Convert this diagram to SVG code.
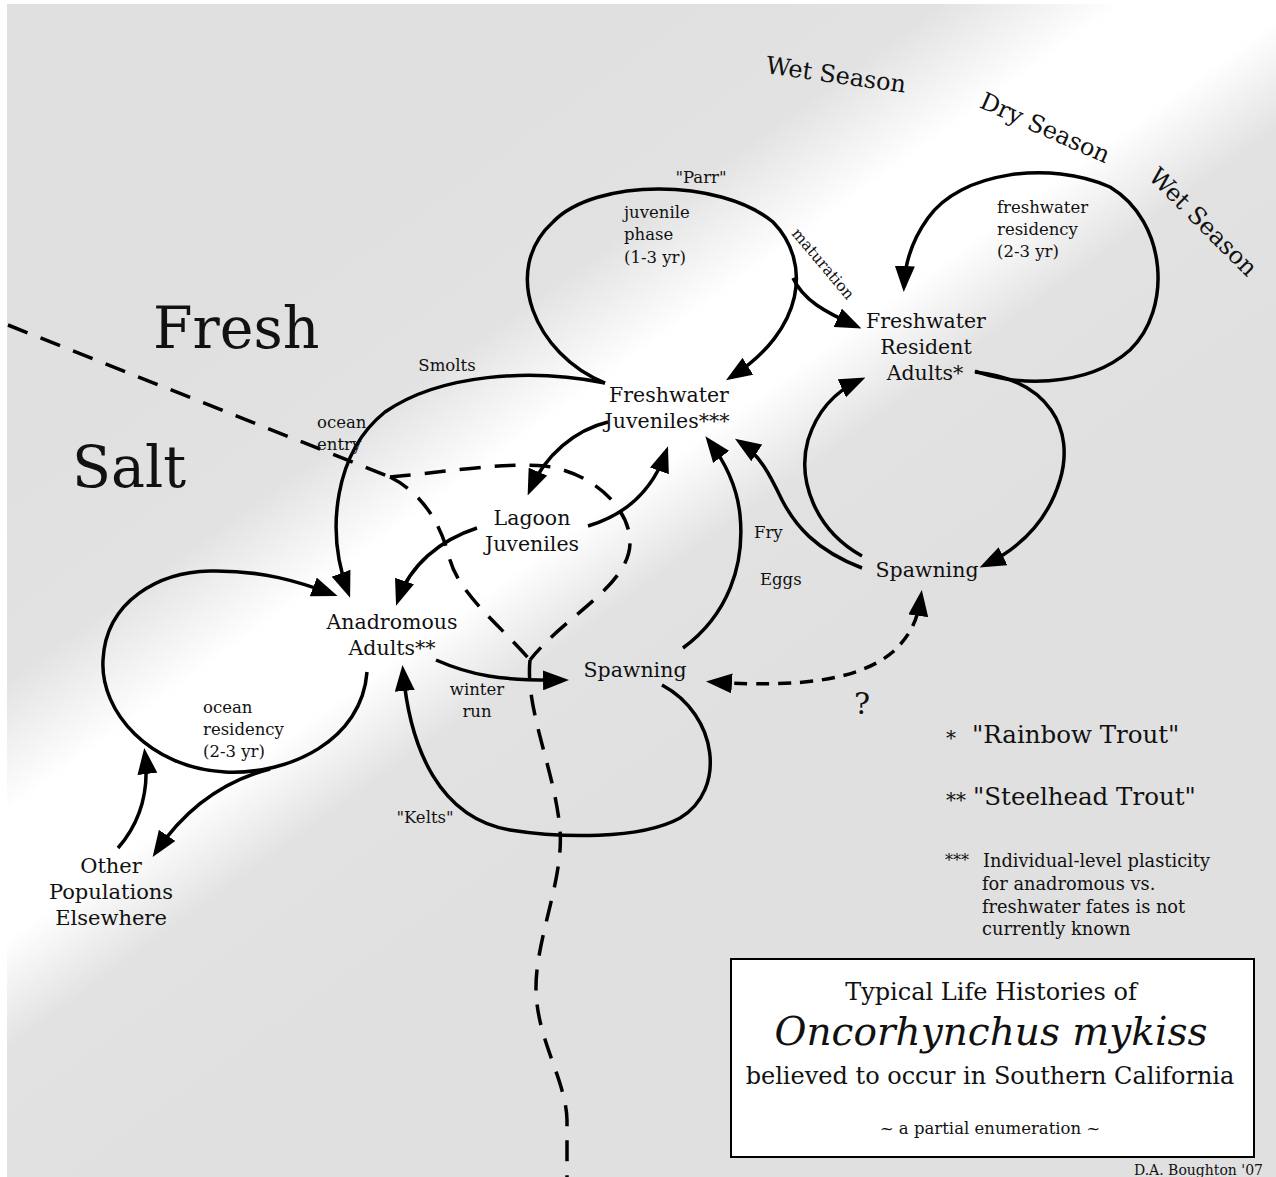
<svg xmlns="http://www.w3.org/2000/svg" width="1276" height="1177" viewBox="0 0 1276 1177">
<defs>
<linearGradient id="bg" gradientUnits="userSpaceOnUse" x1="474" y1="156" x2="826" y2="642">
<stop offset="0" stop-color="#e0e0e0"/>
<stop offset="0.25" stop-color="#e2e2e2"/>
<stop offset="0.43" stop-color="#ffffff"/>
<stop offset="0.6" stop-color="#ffffff"/>
<stop offset="0.75" stop-color="#e2e2e2"/>
<stop offset="1" stop-color="#e0e0e0"/>
</linearGradient>
<marker id="ah" markerWidth="26" markerHeight="20" refX="20" refY="10" orient="auto" markerUnits="userSpaceOnUse" viewBox="0 0 26 20"><path d="M0,0 L26,10 L0,20 z" fill="#000"/></marker>
<marker id="ahs" markerWidth="26" markerHeight="20" refX="20" refY="10" orient="auto-start-reverse" markerUnits="userSpaceOnUse" viewBox="0 0 26 20"><path d="M0,0 L26,10 L0,20 z" fill="#000"/></marker>
</defs>
<style>
text{font-family:"DejaVu Serif","Liberation Serif",serif;fill:#111}
.n{font-size:20.5px;text-anchor:middle}
.s{font-size:16.5px}
.sm{font-size:16.5px;text-anchor:middle}
.big{font-size:57px}
.season{font-size:24px;text-anchor:middle}
.c{fill:none;stroke:#000;stroke-width:3.5}
.a{marker-end:url(#ah)}
.d{fill:none;stroke:#000;stroke-width:3.5;stroke-dasharray:21 14}
.q{fill:none;stroke:#000;stroke-width:3.5;stroke-dasharray:13 9}
</style>
<rect x="0" y="0" width="1276" height="1177" fill="#ffffff"/>
<rect x="7" y="4" width="1269" height="1173" fill="url(#bg)"/>

<g id="region-labels">
<text class="big" x="153" y="348">Fresh</text>
<text class="big" x="72" y="487">Salt</text>
<text class="season" transform="translate(836,75) rotate(8)" x="0" y="8">Wet Season</text>
<text class="season" transform="translate(1045,128) rotate(24)" x="0" y="8">Dry Season</text>
<text class="season" transform="translate(1203,222) rotate(45)" x="0" y="8">Wet Season</text>
</g>

<g id="connectors">
<path class="d" d="M 8 325 L 390 477"/>
<path class="d" d="M 390 477 C 440 473 500 462 545 466 C 590 472 628 505 630 540 C 632 585 565 615 530 660"/>
<path class="d" d="M 390 477 C 420 492 440 520 450 560 C 460 595 500 625 530 660"/>
<path class="d" d="M 530 660 C 525 710 555 770 560 830 C 564 880 535 940 536 990 C 537 1040 566 1080 567 1120 L 567 1177"/>
<path class="c a" d="M 605 383 C 535 355 500 270 553 222 C 595 178 720 178 773 222 C 812 262 805 330 731 377"/>
<path class="c a" d="M 793 278 C 803 300 825 312 856 326"/>
<path class="c a" d="M 975 371 C 1010 385 1085 390 1130 350 C 1172 310 1168 222 1110 187 C 1050 160 960 172 928 218 C 912 240 905 262 904 286"/>
<path class="c a" d="M 975 372 C 1050 380 1075 430 1060 480 C 1048 520 1020 548 985 565"/>
<path class="c a" d="M 862 556 C 815 530 797 480 808 440 C 818 408 838 390 860 380"/>
<path class="c a" d="M 862 568 C 815 550 795 525 782 500 C 770 475 760 455 740 442"/>
<path class="c a" d="M 683 648 C 728 615 745 565 740 515 C 737 485 725 462 709 441"/>
<path class="c a" d="M 608 422 C 575 430 545 455 530 490"/>
<path class="c a" d="M 588 526 C 625 515 652 492 666 452"/>
<path class="c a" d="M 477 528 C 440 540 410 565 398 600"/>
<path class="c a" d="M 605 383 C 530 368 440 374 385 412 C 335 452 325 530 348 592"/>
<path class="c a" d="M 367 672 C 362 740 290 775 225 772 C 150 768 100 712 103 660 C 106 600 160 572 210 571 C 262 570 300 582 332 594"/>
<path class="c a" d="M 270 769 C 220 782 183 812 156 852"/>
<path class="c a" d="M 118 848 C 138 825 150 795 145 754"/>
<path class="c a" d="M 436 660 C 470 675 500 681 563 680"/>
<path class="c a" d="M 662 685 C 718 715 727 790 680 818 C 640 840 560 838 510 830 C 440 818 410 750 403 671"/>
<path class="q" marker-start="url(#ahs)" marker-end="url(#ah)" d="M 712 682 C 800 688 862 680 895 650 C 912 633 918 618 921 596"/>
</g>

<g id="node-freshwater-juveniles">
<text class="n" x="669" y="402">Freshwater</text>
<text class="n" x="667" y="428">Juveniles***</text>
</g>
<g id="node-freshwater-resident-adults">
<text class="n" x="926" y="328">Freshwater</text>
<text class="n" x="926" y="354">Resident</text>
<text class="n" x="925" y="380">Adults*</text>
</g>
<g id="node-lagoon-juveniles">
<text class="n" x="532" y="525">Lagoon</text>
<text class="n" x="532" y="551">Juveniles</text>
</g>
<g id="node-anadromous-adults">
<text class="n" x="392" y="629">Anadromous</text>
<text class="n" x="392" y="655">Adults**</text>
</g>
<g id="node-spawning-fresh">
<text class="n" x="927" y="577">Spawning</text>
</g>
<g id="node-spawning-anadromous">
<text class="n" x="635" y="677">Spawning</text>
</g>
<g id="node-other-populations">
<text class="n" x="111" y="873" style="font-size:21px">Other</text>
<text class="n" x="111" y="899" style="font-size:21px">Populations</text>
<text class="n" x="111" y="925" style="font-size:21px">Elsewhere</text>
</g>

<g id="edge-labels">
<text class="sm" x="701" y="183">"Parr"</text>
<text class="s" x="624" y="218">juvenile</text>
<text class="s" x="624" y="240">phase</text>
<text class="s" x="624" y="263">(1-3 yr)</text>
<text class="sm" style="font-size:15.5px" transform="translate(823,264) rotate(50)" x="0" y="5">maturation</text>
<text class="s" x="997" y="213">freshwater</text>
<text class="s" x="997" y="235">residency</text>
<text class="s" x="997" y="257">(2-3 yr)</text>
<text class="sm" x="447" y="371">Smolts</text>
<text class="s" x="317" y="428">ocean</text>
<text class="s" x="317" y="450">entry</text>
<text class="s" x="754" y="538">Fry</text>
<text class="s" x="760" y="585">Eggs</text>
<text class="sm" x="477" y="695">winter</text>
<text class="sm" x="477" y="717">run</text>
<text class="s" x="203" y="713">ocean</text>
<text class="s" x="203" y="735">residency</text>
<text class="s" x="203" y="757">(2-3 yr)</text>
<text class="sm" x="425" y="823">"Kelts"</text>
<text x="862" y="714" style="font-size:30px;text-anchor:middle">?</text>
</g>

<g id="legend">
<text x="946" y="745" style="font-size:20px">*</text>
<text x="972" y="743" style="font-size:24.5px">"Rainbow Trout"</text>
<text x="946" y="807" style="font-size:20px">**</text>
<text x="973" y="805" style="font-size:24.5px">"Steelhead Trout"</text>
<text x="945" y="866" style="font-size:16px">***</text>
<text x="983" y="867" style="font-size:17.8px">Individual-level plasticity</text>
<text x="982" y="890" style="font-size:17.8px">for anadromous vs.</text>
<text x="982" y="913" style="font-size:17.8px">freshwater fates is not</text>
<text x="982" y="935" style="font-size:17.8px">currently known</text>
</g>

<g id="title-box">
<rect x="731" y="959" width="523" height="198" fill="#ffffff" stroke="#000" stroke-width="2"/>
<text x="991" y="1000" style="font-size:24px;text-anchor:middle">Typical Life Histories of</text>
<text x="991" y="1045" style="font-size:39px;font-style:italic;text-anchor:middle">Oncorhynchus mykiss</text>
<text x="990" y="1084" style="font-size:24px;text-anchor:middle">believed to occur in Southern California</text>
<text x="990" y="1134" style="font-size:16.5px;text-anchor:middle">~ a partial enumeration ~</text>
</g>
<text x="1263" y="1175" style="font-size:14px;text-anchor:end">D.A. Boughton '07</text>
</svg>
